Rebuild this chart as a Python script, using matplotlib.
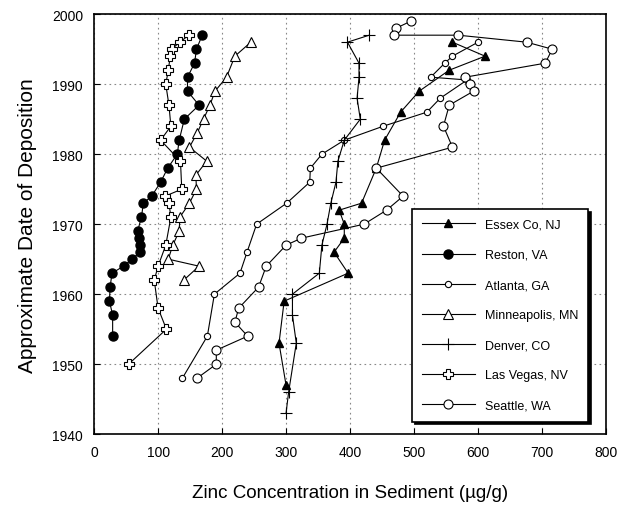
import matplotlib
matplotlib.use("Agg")
import matplotlib.pyplot as plt

plt.rcParams["font.family"] = ["Liberation Sans", "DejaVu Sans"]

# zinc concentration (ug/g) and approximate deposition year
essex_zn = [560, 611, 555, 508, 479, 454, 441, 418, 383, 391, 391, 375, 397, 297, 289, 300]
essex_yr = [1996, 1994, 1992, 1989, 1986, 1982, 1978, 1973, 1972, 1970, 1968, 1966, 1963, 1959, 1953, 1947]

reston_zn = [169, 160, 157, 146, 146, 164, 141, 133, 130, 115, 104, 90, 77, 74, 68, 70, 71, 72,
             59, 46, 28, 25, 24, 29, 29]
reston_yr = [1997, 1995, 1993, 1991, 1989, 1987, 1985, 1982, 1980, 1978, 1976, 1974, 1973, 1971,
             1969, 1968, 1967, 1966, 1965, 1964, 1963, 1961, 1959, 1957, 1954]

atlanta_zn = [600, 560, 548, 526, 583, 541, 520, 452, 391, 356, 338, 337, 301, 254, 239, 228,
              188, 177, 138]
atlanta_yr = [1996, 1994, 1993, 1991, 1990.6, 1988, 1986, 1984, 1982, 1980, 1978, 1976, 1973,
              1970, 1966, 1963, 1960, 1954, 1948]

minneapolis_zn = [245, 220, 207, 189, 181, 171, 161, 149, 176, 159, 160, 149, 134, 133, 123,
                  116, 164, 140]
minneapolis_yr = [1996, 1994, 1991, 1989, 1987, 1985, 1983, 1981, 1979, 1977, 1975, 1973, 1971,
                  1969, 1967, 1965, 1964, 1962]

denver_zn = [430, 396, 414, 414, 411, 416, 391, 381, 378, 370, 364, 356, 352, 310, 310, 316,
             304, 300]
denver_yr = [1997, 1996, 1993, 1991, 1988, 1985, 1982, 1979, 1976, 1973, 1970, 1967, 1963,
             1960, 1957, 1953, 1946, 1943]

vegas_zn = [148, 134, 121, 119, 116, 112, 117, 120, 104, 135, 137, 111, 117, 120, 112, 100, 94,
            100, 113, 54]
vegas_yr = [1997, 1996, 1995, 1994, 1992, 1990, 1987, 1984, 1982, 1979, 1975, 1974, 1973, 1971,
            1967, 1964, 1962, 1958, 1955, 1950]

seattle_zn = [495, 472, 469, 569, 676, 716, 705, 580, 588, 593, 555, 546, 560, 441, 483, 457,
              422, 324, 300, 269, 257, 226, 220, 240, 191, 191, 161]
seattle_yr = [1999, 1998, 1997, 1997, 1996, 1995, 1993, 1991, 1990, 1989, 1987, 1984, 1981, 1978,
              1974, 1972, 1970, 1968, 1967, 1964, 1961, 1958, 1956, 1954, 1952, 1950, 1948]

fig = plt.figure(figsize=(6.19, 5.06), dpi=100)
ax = fig.add_axes([0.152, 0.140, 0.827, 0.830])

lw = 0.8
ax.plot(essex_zn, essex_yr, "-^", color="black", lw=lw, ms=6, mfc="black", label="Essex Co, NJ")
ax.plot(reston_zn, reston_yr, "-o", color="black", lw=lw, ms=6.5, mfc="black", label="Reston, VA")
ax.plot(atlanta_zn, atlanta_yr, "-o", color="black", lw=lw, ms=4.5, mfc="white", mew=0.8,
        label="Atlanta, GA")
ax.plot(minneapolis_zn, minneapolis_yr, "-^", color="black", lw=lw, ms=6.5, mfc="white", mew=0.8,
        label="Minneapolis, MN")
ax.plot(denver_zn, denver_yr, "-+", color="black", lw=lw, ms=8, mew=0.8, label="Denver, CO")
ax.plot(vegas_zn, vegas_yr, "-P", color="black", lw=lw, ms=6.5, mfc="white", mew=0.8,
        label="Las Vegas, NV")
ax.plot(seattle_zn, seattle_yr, "-o", color="black", lw=lw, ms=6.5, mfc="white", mew=0.8,
        label="Seattle, WA")

ax.set_xlim(0, 800)
ax.set_ylim(1940, 2000)
ax.set_xticks(range(0, 801, 100))
ax.set_yticks(range(1940, 2001, 10))
ax.tick_params(direction="in", labelsize=10, length=4, pad=8)
ax.grid(True, linestyle=(0, (1.5, 3)), color="#888888", linewidth=0.8)
for s in ax.spines.values():
    s.set_linewidth(1.2)

ax.set_xlabel("Zinc Concentration in Sediment (\u00b5g/g)", fontsize=13.5, labelpad=18)
ax.set_ylabel("Approximate Date of Deposition", fontsize=15, labelpad=11)

leg = ax.legend(loc="lower right", bbox_to_anchor=(0.965, 0.03), borderaxespad=0, fontsize=9,
                handlelength=4.2, labelspacing=1.45, borderpad=0.8, fancybox=False,
                framealpha=1, edgecolor="black",
                shadow={"facecolor": "black", "edgecolor": "black", "alpha": 1})
leg.get_frame().set_linewidth(1.2)

fig.savefig("out.png", dpi=100)
